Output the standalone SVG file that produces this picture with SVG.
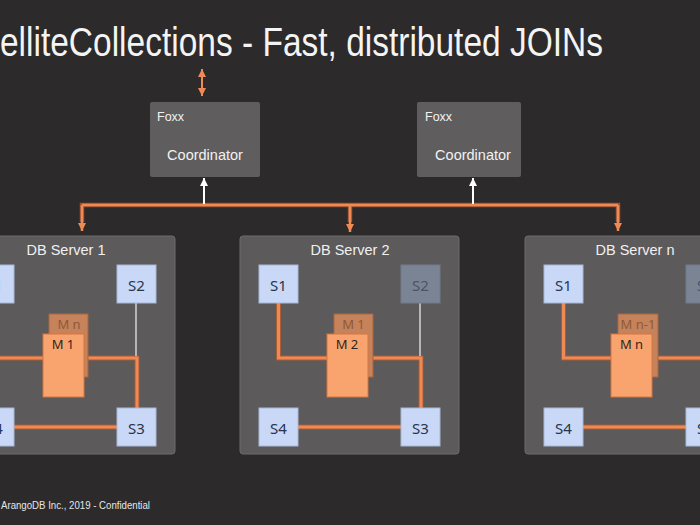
<svg xmlns="http://www.w3.org/2000/svg" width="700" height="525" viewBox="0 0 700 525">
<defs>
<style>
.bg{fill:#2c2a2a}
.title{font-family:"Liberation Sans",Arial,sans-serif;font-size:41px;fill:#f4f4f4}
.foot{font-family:"Liberation Sans",Arial,sans-serif;font-size:11.5px;fill:#e6e6e6}
.coord rect{fill:#5f5d5d}
.coord .small{font-family:"Liberation Sans",Arial,sans-serif;font-size:12.5px;fill:#f2f2f2}
.coord .big{font-family:"Liberation Sans",Arial,sans-serif;font-size:14.5px;fill:#f2f2f2;text-anchor:middle}
.server rect{fill:#5c5a5a;stroke:#6c6a6a;stroke-width:1}
.server text{font-family:"Liberation Sans",Arial,sans-serif;font-size:14.5px;fill:#f0f0f0;text-anchor:middle}
.shard rect{fill:#c8d8f6;stroke:#a8b8d8;stroke-width:1}
.shard text{font-family:"Noto Sans","DejaVu Sans",sans-serif;font-size:15px;fill:#27354f;text-anchor:middle}
.shard.off rect{fill:#7b8494;stroke:#737b8a}
.shard.off text{fill:#4c5465}
.mback rect{fill:#c6825a;stroke:#a9663f;stroke-width:1}
.mback text{font-family:"Noto Sans","DejaVu Sans",sans-serif;font-size:13px;fill:#8c5a3b;text-anchor:middle}
.mfront rect{fill:#f9a36e;stroke:#d5763f;stroke-width:1}
.mfront text{font-family:"Noto Sans","DejaVu Sans",sans-serif;font-size:13px;fill:#2f2522;text-anchor:middle}
.edgeo{fill:none;stroke:#a85d37;stroke-width:5}
.edgei{fill:none;stroke:#ef8a55;stroke-width:3}
.busi{fill:none;stroke:#ef8a55;stroke-width:2.5}
.buso{fill:none;stroke:#9a5233;stroke-width:4.5}
.white{fill:none;stroke:#ffffff;stroke-width:2}
.wthin{fill:none;stroke:#f4f4f4;stroke-width:1.2}
.dbl{fill:none;stroke:#ef8a55;stroke-width:2}
</style>
<marker id="ao" viewBox="0 0 8 8" refX="8" refY="4" markerWidth="8" markerHeight="8" markerUnits="userSpaceOnUse" orient="auto-start-reverse">
<path d="M0,0 L8,4 L0,8 z" fill="#ef8a55"/>
</marker>
<marker id="aw" viewBox="0 0 8 8" refX="8" refY="4" markerWidth="8" markerHeight="8" markerUnits="userSpaceOnUse" orient="auto">
<path d="M0,0 L8,4 L0,8 z" fill="#ffffff"/>
</marker>
</defs>
<rect class="bg" x="0" y="0" width="700" height="525"/>
<text class="title" x="0" y="56" textLength="603" lengthAdjust="spacingAndGlyphs">elliteCollections - Fast, distributed JOINs</text>
<text class="foot" x="1" y="509" textLength="149" lengthAdjust="spacingAndGlyphs">ArangoDB Inc., 2019 - Confidential</text>

<g id="coordinator1" class="coord">
<rect x="150" y="102" width="110" height="75" rx="2"/>
<text class="small" x="157" y="121">Foxx</text>
<text class="big" x="205" y="160">Coordinator</text>
</g>
<g id="coordinator2" class="coord">
<rect x="417" y="102" width="104" height="75" rx="2"/>
<text class="small" x="425" y="121">Foxx</text>
<text class="big" x="473" y="160">Coordinator</text>
</g>

<g id="dbserver1" class="server"><rect x="-44" y="236" width="219" height="218" rx="3"/><text x="66" y="255">DB Server 1</text></g>
<g id="dbserver2" class="server"><rect x="240" y="236" width="219" height="218" rx="3"/><text x="350" y="255">DB Server 2</text></g>
<g id="dbservern" class="server"><rect x="525" y="236" width="219" height="218" rx="3"/><text x="635" y="255">DB Server n</text></g>

<g id="connectors">
<path class="dbl" d="M202,96 V69" marker-start="url(#ao)" marker-end="url(#ao)"/>
<path class="buso" d="M82,222 V205 H618 V222 M350,205 V222"/>
<path class="busi" d="M82,205 H618"/>
<path class="busi" d="M82,205 V231" marker-end="url(#ao)"/>
<path class="busi" d="M350,205 V232" marker-end="url(#ao)"/>
<path class="busi" d="M618,205 V231" marker-end="url(#ao)"/>
<path class="white" d="M204,204 V178" marker-end="url(#aw)"/>
<path class="white" d="M473,204 V178" marker-end="url(#aw)"/>
<g transform="translate(-44,0)">
<path class="edgeo" d="M38.5,303 V358 H90 M128,358 H181 V408 M58,427 H161"/>
<path class="edgei" d="M38.5,303 V358 H90 M128,358 H181 V408 M58,427 H161"/>
<path class="wthin" d="M180,303 V356"/>
</g>
<g transform="translate(240,0)">
<path class="edgeo" d="M38.5,303 V358 H90 M128,358 H181 V408 M58,427 H161"/>
<path class="edgei" d="M38.5,303 V358 H90 M128,358 H181 V408 M58,427 H161"/>
<path class="wthin" d="M180,303 V356"/>
</g>
<g transform="translate(525,0)">
<path class="edgeo" d="M38.5,303 V358 H90 M128,358 H181 V408 M58,427 H161"/>
<path class="edgei" d="M38.5,303 V358 H90 M128,358 H181 V408 M58,427 H161"/>
<path class="wthin" d="M180,303 V356"/>
</g>
</g>

<g id="srv1-s1" class="shard"><rect x="-25" y="265" width="39" height="38"/><text x="-5.5" y="291">S1</text></g>
<g id="srv1-s2" class="shard"><rect x="117" y="265" width="39" height="38"/><text x="136.5" y="291">S2</text></g>
<g id="srv1-s4" class="shard"><rect x="-25" y="408" width="39" height="38"/><text x="-5.5" y="434">S4</text></g>
<g id="srv1-s3" class="shard"><rect x="117" y="408" width="39" height="38"/><text x="136.5" y="434">S3</text></g>
<g id="srv1-mn" class="mback"><rect x="49" y="314" width="39" height="63"/><text x="69" y="329">M n</text></g>
<g id="srv1-m1" class="mfront"><rect x="43" y="334" width="41" height="63"/><text x="63" y="349">M 1</text></g>

<g id="srv2-s1" class="shard"><rect x="259" y="265" width="39" height="38"/><text x="278.5" y="291">S1</text></g>
<g id="srv2-s2" class="shard off"><rect x="401" y="265" width="39" height="38"/><text x="420.5" y="291">S2</text></g>
<g id="srv2-s4" class="shard"><rect x="259" y="408" width="39" height="38"/><text x="278.5" y="434">S4</text></g>
<g id="srv2-s3" class="shard"><rect x="401" y="408" width="39" height="38"/><text x="420.5" y="434">S3</text></g>
<g id="srv2-m1" class="mback"><rect x="334" y="314" width="39" height="63"/><text x="353.5" y="329">M 1</text></g>
<g id="srv2-m2" class="mfront"><rect x="327" y="334" width="41" height="63"/><text x="347" y="349">M 2</text></g>

<g id="srvn-s1" class="shard"><rect x="544" y="265" width="39" height="38"/><text x="563.5" y="291">S1</text></g>
<g id="srvn-s2" class="shard off"><rect x="686" y="265" width="39" height="38"/><text x="705.5" y="291">S2</text></g>
<g id="srvn-s4" class="shard"><rect x="544" y="408" width="39" height="38"/><text x="563.5" y="434">S4</text></g>
<g id="srvn-s3" class="shard"><rect x="686" y="408" width="39" height="38"/><text x="705.5" y="434">S3</text></g>
<g id="srvn-mn1" class="mback"><rect x="618" y="314" width="40" height="63"/><text x="638" y="329">M n-1</text></g>
<g id="srvn-mn" class="mfront"><rect x="611" y="334" width="41" height="63"/><text x="631.5" y="349">M n</text></g>
</svg>
